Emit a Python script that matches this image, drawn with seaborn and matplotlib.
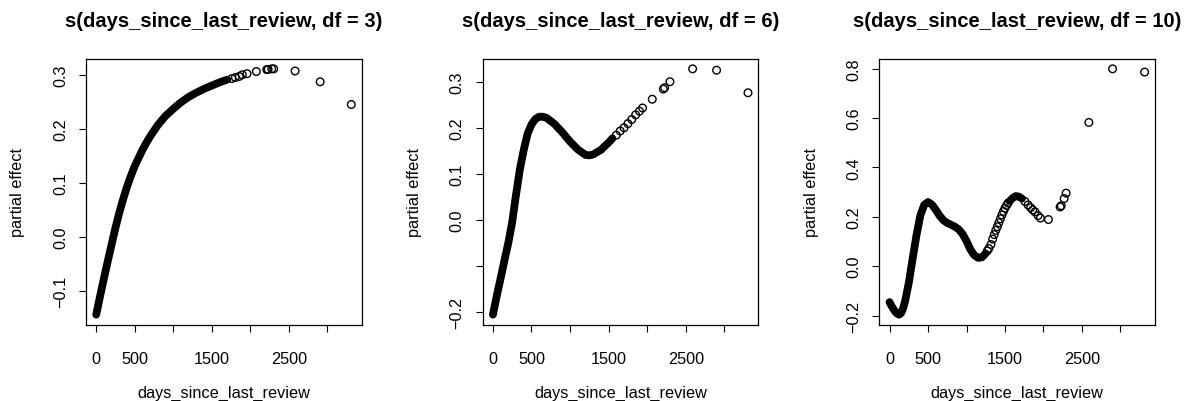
import numpy as np
import matplotlib
matplotlib.use("Agg")
import matplotlib.pyplot as plt
import seaborn as sns

# smoothed partial effects of days_since_last_review
# df = 3
days_df3_dense = [0, 50, 100, 150, 200, 250, 300, 350, 400, 450, 500, 550, 600, 650, 700,
                  800, 900, 1000, 1100, 1200, 1300, 1400, 1500, 1600, 1700]
effect_df3_dense = [-0.144, -0.110, -0.077, -0.045, -0.014, 0.017, 0.045, 0.070, 0.093, 0.113,
                    0.131, 0.146, 0.161, 0.174, 0.186, 0.207, 0.224, 0.237, 0.249, 0.259,
                    0.267, 0.274, 0.280, 0.286, 0.291]
days_df3_pts = [1760, 1804, 1856, 1895, 1956, 2077, 2212, 2230, 2277, 2303, 2580, 2905, 3309]
effect_df3_pts = [0.293, 0.295, 0.297, 0.300, 0.302, 0.306, 0.3096, 0.310, 0.311, 0.311,
                  0.307, 0.287, 0.245]

# df = 6
days_df6_dense = [0, 50, 100, 150, 200, 250, 300, 350, 400, 450, 500, 550, 600, 650, 700,
                  800, 900, 1000, 1100, 1200, 1250, 1300, 1400, 1500, 1550]
effect_df6_dense = [-0.206, -0.165, -0.127, -0.088, -0.050, -0.005, 0.055, 0.110, 0.152, 0.187,
                    0.207, 0.219, 0.224, 0.224, 0.221, 0.208, 0.190, 0.170, 0.153, 0.141,
                    0.140, 0.142, 0.152, 0.168, 0.177]
days_df6_pts = [1600, 1650, 1700, 1750, 1800, 1850, 1900, 1940, 2066, 2209, 2226, 2295,
                2589, 2900, 3307]
effect_df6_pts = [0.184, 0.193, 0.200, 0.209, 0.218, 0.228, 0.236, 0.243, 0.262, 0.284,
                  0.287, 0.300, 0.328, 0.325, 0.276]

# df = 10
days_df10_dense_a = [0, 25, 50, 75, 100, 125, 150, 175, 200, 250, 300, 350, 400, 450, 500,
                     550, 600, 650, 700, 750, 800, 850, 900, 950, 1000, 1050, 1100, 1150,
                     1200, 1250]
effect_df10_dense_a = [-0.145, -0.160, -0.173, -0.184, -0.192, -0.196, -0.190, -0.172, -0.145,
                       -0.068, 0.030, 0.125, 0.205, 0.248, 0.260, 0.250, 0.229, 0.205, 0.186,
                       0.175, 0.168, 0.160, 0.149, 0.130, 0.102, 0.068, 0.045, 0.034, 0.036,
                       0.052]
days_df10_dense_b = [1560, 1600, 1640, 1680, 1720]
effect_df10_dense_b = [0.264, 0.276, 0.284, 0.282, 0.274]
days_df10_pts = [1270, 1290, 1318, 1340, 1360, 1380, 1400, 1420, 1440, 1460, 1480, 1500,
                 1520, 1540, 1760, 1800, 1833, 1860, 1890, 1930, 1960, 2064, 2216, 2230,
                 2268, 2294, 2589, 2897, 3313]
effect_df10_pts = [0.062, 0.072, 0.088, 0.110, 0.128, 0.145, 0.160, 0.176, 0.192, 0.208,
                   0.222, 0.235, 0.246, 0.256, 0.262, 0.248, 0.237, 0.228, 0.220, 0.205,
                   0.195, 0.189, 0.240, 0.245, 0.274, 0.296, 0.582, 0.799, 0.786]

x_ticks = [0, 500, 1000, 1500, 2000, 2500, 3000]
x_ticklabels = ["0", "500", "", "1500", "", "2500", ""]

panels = [
    ("s(days_since_last_review, df = 3)",
     [(days_df3_dense, effect_df3_dense)], (days_df3_pts, effect_df3_pts),
     [-0.1, 0.0, 0.1, 0.2, 0.3], ["\u22120.1", "0.0", "0.1", "0.2", "0.3"]),
    ("s(days_since_last_review, df = 6)",
     [(days_df6_dense, effect_df6_dense)], (days_df6_pts, effect_df6_pts),
     [-0.2, -0.1, 0.0, 0.1, 0.2, 0.3], ["\u22120.2", "", "0.0", "0.1", "0.2", "0.3"]),
    ("s(days_since_last_review, df = 10)",
     [(days_df10_dense_a, effect_df10_dense_a), (days_df10_dense_b, effect_df10_dense_b)],
     (days_df10_pts, effect_df10_pts),
     [-0.2, 0.0, 0.2, 0.4, 0.6, 0.8], ["\u22120.2", "0.0", "0.2", "0.4", "0.6", "0.8"]),
]

sns.set_theme(style="ticks")
plt.rcParams["font.family"] = ["Liberation Sans", "DejaVu Sans"]

fig = plt.figure(figsize=(11.85, 4.02), dpi=100)
lefts = [86 / 1185, 482.7 / 1185, 879.3 / 1185]
W, H = 1185, 402
FS = 11.7

for left, (title, dense, pts, yt, ytl) in zip(lefts, panels):
    ax = fig.add_axes([left, (402 - 325.5) / H, 275.5 / W, 265.5 / H])
    for dx, dy in dense:
        sns.lineplot(x=dx, y=dy, ax=ax, color="black", linewidth=5.6, sort=False,
                     estimator=None, solid_capstyle="round", solid_joinstyle="round")
    sns.scatterplot(x=pts[0], y=pts[1], ax=ax, marker="o", s=30, facecolor="none",
                    edgecolor="black", linewidth=1.0)

    all_x = [v for d in dense for v in d[0]] + list(pts[0])
    all_y = [v for d in dense for v in d[1]] + list(pts[1])
    xr = max(all_x) - min(all_x)
    yr = max(all_y) - min(all_y)
    ax.set_xlim(min(all_x) - 0.04 * xr, max(all_x) + 0.04 * xr)
    ax.set_ylim(min(all_y) - 0.04 * yr, max(all_y) + 0.04 * yr)

    ax.set_xticks(x_ticks)
    ax.set_xticklabels(x_ticklabels)
    ax.set_yticks(yt)
    ax.set_yticklabels(ytl, rotation=90, va="center")
    ax.tick_params(axis="both", length=5, width=0.8, color="black", labelsize=FS,
                   labelcolor="black", direction="out")
    ax.tick_params(axis="y", pad=8)
    ax.tick_params(axis="x", pad=14)
    for sp in ax.spines.values():
        sp.set_visible(True)
        sp.set_color("black")
        sp.set_linewidth(0.9)

    ax.set_xlabel("days_since_last_review", fontsize=FS, color="black")
    ax.set_ylabel("partial effect", fontsize=FS, color="black")
    ax.xaxis.set_label_coords(0.5, -0.228)
    ax.yaxis.set_label_coords(-0.22, 0.5)
    ax.set_title(title, fontsize=14.5, fontweight="bold", pad=24, color="black")

fig.savefig("out.png", dpi=100, facecolor="white")
